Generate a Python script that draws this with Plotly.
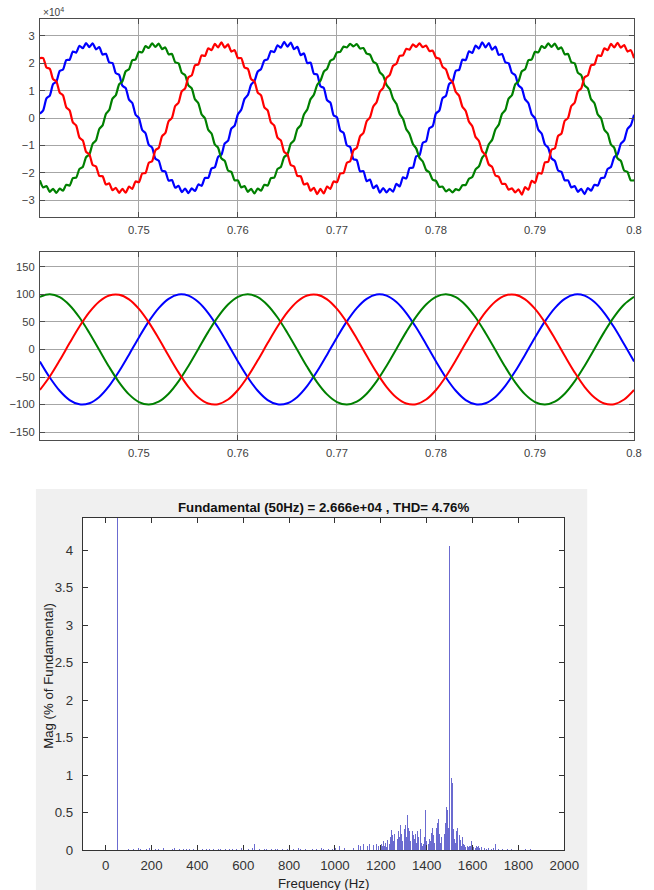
import numpy as np
import plotly.graph_objects as go

# The photographed area is about 667x898 CSS px and is then scaled to 654x890,
# so the figure is drawn at that size and every position is a fraction of the
# 654x890 reference frame.
W, H = 654, 890
FIG_W, FIG_H = 667, 898
FS = FIG_W / W  # font compensation for the downscale

# ---------------- Panel 1: output voltages (x 10^4), sampled every 1/3000 s ----------------
phase_a_top = [
    0.16, 0.28, 0.72, 0.82, 1.24, 1.33, 1.72, 1.77, 2.12, 2.13,
    2.43, 2.39, 2.64, 2.55, 2.74, 2.59, 2.73, 2.51, 2.59, 2.32,
    2.35, 2.03, 2.01, 1.64, 1.58, 1.18, 1.09, 0.67, 0.55, 0.12,
    0.00, -0.44, -0.56, -0.98, -1.08, -1.49, -1.56, -1.93, -1.96, -2.29,
    -2.27, -2.55, -2.48, -2.71, -2.58, -2.75, -2.57, -2.67, -2.43, -2.48,
    -2.19, -2.19, -1.85, -1.80, -1.42, -1.34, -0.93, -0.83, -0.39, -0.28,
    0.14, 0.30, 0.70, 0.84, 1.22, 1.35, 1.70, 1.79, 2.10, 2.15,
    2.45, 2.41, 2.66, 2.57, 2.78, 2.61, 2.76, 2.52, 2.60, 2.30,
    2.36, 2.01, 2.02, 1.62, 1.59, 1.16, 1.10, 0.65, 0.56, 0.10,
    0.02, -0.46, -0.54, -1.00, -1.06, -1.51, -1.54, -1.95, -1.94, -2.31,
    -2.25, -2.57, -2.46, -2.73, -2.56, -2.72, -2.59, -2.69, -2.41, -2.50,
    -2.17, -2.21, -1.83, -1.82, -1.40, -1.36, -0.91, -0.85, -0.37, -0.30,
    0.17, 0.27, 0.73, 0.81, 1.25, 1.32, 1.73, 1.76, 2.13, 2.12,
    2.44, 2.38, 2.65, 2.54, 2.77, 2.58, 2.74, 2.50, 2.61, 2.31,
    2.34, 2.04, 2.00, 1.65, 1.57, 1.19, 1.08, 0.68, 0.54, 0.13,
    -0.01, -0.43, -0.57, -0.97, -1.09, -1.48, -1.57, -1.92, -1.97, -2.28,
    -2.28, -2.54, -2.49, -2.70, -2.59, -2.78, -2.56, -2.66, -2.44, -2.47,
    -2.20, -2.18, -1.86, -1.79, -1.43, -1.33, -0.94, -0.82, -0.40, -0.27,
    0.12,
]
phase_b_top = [
    2.19, 2.19, 1.85, 1.80, 1.42, 1.34, 0.93, 0.83, 0.39, 0.28,
    -0.16, -0.28, -0.72, -0.82, -1.24, -1.33, -1.72, -1.77, -2.12, -2.13,
    -2.43, -2.39, -2.64, -2.55, -2.74, -2.59, -2.73, -2.51, -2.59, -2.32,
    -2.35, -2.03, -2.01, -1.64, -1.58, -1.18, -1.09, -0.67, -0.55, -0.12,
    0.00, 0.44, 0.56, 0.98, 1.08, 1.49, 1.56, 1.93, 1.96, 2.29,
    2.27, 2.55, 2.48, 2.71, 2.58, 2.77, 2.57, 2.69, 2.43, 2.48,
    2.19, 2.19, 1.85, 1.80, 1.42, 1.34, 0.93, 0.83, 0.39, 0.28,
    -0.16, -0.28, -0.72, -0.82, -1.24, -1.33, -1.72, -1.77, -2.12, -2.13,
    -2.43, -2.39, -2.66, -2.55, -2.78, -2.59, -2.76, -2.51, -2.59, -2.32,
    -2.35, -2.03, -2.01, -1.64, -1.58, -1.18, -1.09, -0.67, -0.55, -0.12,
    0.02, 0.42, 0.58, 0.96, 1.10, 1.47, 1.58, 1.91, 1.98, 2.27,
    2.29, 2.53, 2.50, 2.69, 2.60, 2.73, 2.59, 2.65, 2.45, 2.46,
    2.21, 2.17, 1.87, 1.78, 1.44, 1.32, 0.95, 0.81, 0.41, 0.26,
    -0.14, -0.30, -0.70, -0.84, -1.22, -1.35, -1.70, -1.79, -2.10, -2.15,
    -2.41, -2.41, -2.62, -2.57, -2.72, -2.61, -2.80, -2.53, -2.62, -2.30,
    -2.37, -2.01, -2.03, -1.62, -1.60, -1.16, -1.11, -0.65, -0.57, -0.10,
    0.00, 0.44, 0.56, 0.98, 1.08, 1.49, 1.56, 1.93, 1.96, 2.29,
    2.27, 2.55, 2.48, 2.71, 2.58, 2.75, 2.57, 2.67, 2.43, 2.48,
    2.19,
]
phase_c_top = [
    -2.28, -2.54, -2.49, -2.70, -2.59, -2.74, -2.58, -2.66, -2.44, -2.47,
    -2.20, -2.18, -1.86, -1.79, -1.43, -1.33, -0.94, -0.82, -0.40, -0.27,
    0.15, 0.29, 0.71, 0.83, 1.23, 1.34, 1.71, 1.78, 2.11, 2.14,
    2.42, 2.40, 2.63, 2.56, 2.73, 2.60, 2.72, 2.52, 2.58, 2.33,
    2.34, 2.04, 2.00, 1.65, 1.57, 1.19, 1.08, 0.68, 0.54, 0.13,
    -0.01, -0.43, -0.57, -0.97, -1.09, -1.48, -1.57, -1.92, -1.97, -2.28,
    -2.28, -2.54, -2.49, -2.70, -2.59, -2.76, -2.58, -2.66, -2.44, -2.47,
    -2.20, -2.18, -1.86, -1.79, -1.43, -1.33, -0.94, -0.82, -0.40, -0.27,
    0.13, 0.31, 0.69, 0.85, 1.21, 1.36, 1.69, 1.80, 2.09, 2.16,
    2.40, 2.42, 2.61, 2.58, 2.71, 2.62, 2.70, 2.54, 2.56, 2.35,
    2.32, 2.06, 1.98, 1.67, 1.55, 1.21, 1.06, 0.70, 0.52, 0.15,
    -0.03, -0.41, -0.59, -0.95, -1.11, -1.46, -1.59, -1.90, -1.99, -2.26,
    -2.30, -2.52, -2.51, -2.68, -2.61, -2.72, -2.60, -2.64, -2.46, -2.45,
    -2.22, -2.16, -1.88, -1.77, -1.45, -1.31, -0.96, -0.80, -0.42, -0.25,
    0.15, 0.29, 0.71, 0.83, 1.23, 1.34, 1.71, 1.78, 2.11, 2.14,
    2.42, 2.40, 2.63, 2.56, 2.73, 2.60, 2.72, 2.52, 2.58, 2.33,
    2.34, 2.04, 2.00, 1.65, 1.57, 1.19, 1.08, 0.68, 0.54, 0.13,
    -0.01, -0.43, -0.57, -0.97, -1.09, -1.48, -1.57, -1.92, -1.97, -2.28,
    -2.28,
]

# ---------------- Panel 2: reference signals, sampled every 1 ms ----------------
phase_a_ref = [
    -21.8, -50.9, -75.0, -91.8, -99.6, -97.6, -86.1, -66.1, -39.7, -9.4,
    21.8, 50.9, 75.0, 91.8, 99.6, 97.6, 86.1, 66.1, 39.7, 9.4,
    -21.8, -50.9, -75.0, -91.8, -99.6, -97.6, -86.1, -66.1, -39.7, -9.4,
    21.8, 50.9, 75.0, 91.8, 99.6, 97.6, 86.1, 66.1, 39.7, 9.4,
    -21.8, -50.9, -75.0, -91.8, -99.6, -97.6, -86.1, -66.1, -39.7, -9.4,
    21.8, 50.9, 75.0, 91.8, 99.6, 97.6, 86.1, 66.1, 39.7, 9.4,
    -21.8,
]
phase_b_ref = [
    -73.6, -49.1, -19.8, 11.5, 41.6, 67.7, 87.1, 98.0, 99.3, 90.9,
    73.6, 49.1, 19.8, -11.5, -41.6, -67.7, -87.1, -98.0, -99.3, -90.9,
    -73.6, -49.1, -19.8, 11.5, 41.6, 67.7, 87.1, 98.0, 99.3, 90.9,
    73.6, 49.1, 19.8, -11.5, -41.6, -67.7, -87.1, -98.0, -99.3, -90.9,
    -73.6, -49.1, -19.8, 11.5, 41.6, 67.7, 87.1, 98.0, 99.3, 90.9,
    73.6, 49.1, 19.8, -11.5, -41.6, -67.7, -87.1, -98.0, -99.3, -90.9,
    -73.6,
]
phase_c_ref = [
    95.4, 100.0, 94.8, 80.3, 57.9, 29.9, -1.0, -31.9, -59.6, -81.5,
    -95.4, -100.0, -94.8, -80.3, -57.9, -29.9, 1.0, 31.9, 59.6, 81.5,
    95.4, 100.0, 94.8, 80.3, 57.9, 29.9, -1.0, -31.9, -59.6, -81.5,
    -95.4, -100.0, -94.8, -80.3, -57.9, -29.9, 1.0, 31.9, 59.6, 81.5,
    95.4, 100.0, 94.8, 80.3, 57.9, 29.9, -1.0, -31.9, -59.6, -81.5,
    -95.4, -100.0, -94.8, -80.3, -57.9, -29.9, 1.0, 31.9, 59.6, 81.5,
    95.4,
]
time_ticks = [0.75, 0.76, 0.77, 0.78, 0.79, 0.80]
time_tick_labels = ["0.75", "0.76", "0.77", "0.78", "0.79", "0.8"]

# ---------------- Panel 3: FFT spectrum ----------------
freq_hz = [
    50,
    100, 120, 140, 150, 175, 190, 200, 215, 230, 250, 275, 290, 300, 320, 340, 350,
    365, 380, 400, 420, 440, 450, 470, 490, 500, 520, 540, 550, 570, 590, 600, 620,
    640, 650, 670, 690, 700, 720, 740, 750, 770, 790, 800, 820, 840, 850, 870, 890,
    900, 920, 940, 950, 970, 990, 1000,
    1020, 1040, 1060, 1080, 1100, 1110, 1125, 1140, 1150, 1165, 1180, 1190,
    1200, 1205, 1210, 1215, 1220, 1225, 1230, 1235, 1240, 1245, 1250, 1255, 1260, 1265,
    1270, 1275, 1280, 1285, 1290, 1295, 1300, 1305, 1310, 1315, 1320, 1325, 1330, 1335,
    1340, 1345, 1350, 1355, 1360, 1365, 1370, 1375, 1380, 1385, 1390, 1395, 1400, 1405,
    1410, 1415, 1420, 1425, 1430, 1435, 1440, 1445, 1450, 1455, 1460, 1465, 1470, 1475,
    1480, 1485, 1490, 1495, 1500, 1505, 1510, 1515, 1520, 1525, 1530, 1535, 1540, 1545,
    1550, 1555, 1560, 1565, 1570, 1575, 1580, 1585, 1590, 1595, 1600, 1605, 1610, 1615,
    1620, 1625, 1630, 1640, 1650, 1660, 1670, 1680, 1690, 1700, 1710, 1730, 1750, 1770,
    1800, 1830, 1850, 1880,
]
mag_pct = [
    100.0,
    0.02, 0.01, 0.03, 0.02, 0.02, 0.03, 0.04, 0.02, 0.02, 0.03, 0.01, 0.02, 0.03, 0.02, 0.01, 0.02,
    0.02, 0.01, 0.04, 0.02, 0.01, 0.02, 0.01, 0.02, 0.02, 0.01, 0.02, 0.02, 0.01, 0.03, 0.04, 0.02,
    0.03, 0.08, 0.02, 0.01, 0.02, 0.01, 0.02, 0.02, 0.01, 0.02, 0.04, 0.02, 0.03, 0.02, 0.01, 0.02,
    0.02, 0.01, 0.03, 0.02, 0.02, 0.01, 0.03,
    0.05, 0.03, 0.06, 0.03, 0.07, 0.05, 0.08, 0.06, 0.08, 0.07, 0.08, 0.05,
    0.08, 0.05, 0.12, 0.06, 0.10, 0.04, 0.14, 0.08, 0.18, 0.27, 0.20, 0.12, 0.22, 0.36,
    0.15, 0.25, 0.18, 0.34, 0.22, 0.12, 0.28, 0.34, 0.18, 0.47, 0.30, 0.25, 0.12, 0.25,
    0.20, 0.15, 0.22, 0.10, 0.25, 0.18, 0.28, 0.10, 0.05, 0.08, 0.17, 0.53, 0.12, 0.08,
    0.15, 0.12, 0.23, 0.30, 0.20, 0.10, 0.29, 0.36, 0.41, 0.22, 0.10, 0.18, 0.25, 0.22,
    0.36, 0.58, 0.53, 0.30, 4.05, 0.96, 0.90, 0.28, 0.15, 0.10, 0.26, 0.29, 0.20, 0.13,
    0.06, 0.17, 0.08, 0.07, 0.04, 0.05, 0.04, 0.06, 0.05, 0.12, 0.06, 0.04, 0.03, 0.05,
    0.04, 0.05, 0.03, 0.04, 0.03, 0.02, 0.03, 0.02, 0.03, 0.08, 0.02, 0.02, 0.02, 0.01,
    0.05, 0.01, 0.01, 0.01,
]
freq_ticks = [0, 200, 400, 600, 800, 1000, 1200, 1400, 1600, 1800, 2000]
mag_ticks = [0, 0.5, 1, 1.5, 2, 2.5, 3, 3.5, 4]
mag_tick_labels = ["0", "0.5", "1", "1.5", "2", "2.5", "3", "3.5", "4"]

FFT_TITLE = "Fundamental (50Hz) = 2.666e+04 , THD= 4.76%"

# ---------------- helpers: reference pixels -> paper fractions ----------------
def px_x(p):
    return p / W

def px_y(p):
    return 1 - p / H

FONT = "Liberation Sans, Arial, sans-serif"
BLUE, RED, GREEN = "#0000ff", "#ff0000", "#008000"

fig = go.Figure()

for vals, col in [(phase_a_top, BLUE), (phase_c_top, GREEN), (phase_b_top, RED)]:
    t = np.linspace(0.74, 0.80, len(vals))
    fig.add_trace(go.Scatter(x=t, y=vals, mode="lines", xaxis="x", yaxis="y",
                             line=dict(color=col, width=2.2, shape="spline", smoothing=0.6),
                             showlegend=False, hoverinfo="skip"))

for vals, col in [(phase_a_ref, BLUE), (phase_c_ref, GREEN), (phase_b_ref, RED)]:
    t = np.linspace(0.74, 0.80, len(vals))
    fig.add_trace(go.Scatter(x=t, y=vals, mode="lines", xaxis="x2", yaxis="y2",
                             line=dict(color=col, width=2, shape="spline", smoothing=1.0),
                             showlegend=False, hoverinfo="skip"))

fig.add_trace(go.Bar(x=freq_hz, y=mag_pct, xaxis="x3", yaxis="y3", width=4.2,
                     marker=dict(color="rgba(50,50,190,0.72)", line=dict(width=0)),
                     showlegend=False, hoverinfo="skip"))

AX_LINE = "#4d4d4d"
GRID = "#a6a6a6"
TICK_FONT_SMALL = dict(family=FONT, size=11 * FS, color="#404040")
TICK_FONT_BIG = dict(family=FONT, size=13 * FS, color="#333333")

def wave_axis(**kw):
    d = dict(showline=True, linecolor=AX_LINE, linewidth=1, mirror="allticks",
             ticks="inside", ticklen=5, tickcolor=AX_LINE, showgrid=True,
             gridcolor=GRID, gridwidth=1, zeroline=False, tickfont=TICK_FONT_SMALL)
    d.update(kw)
    return d

top_dom = [px_y(217), px_y(19)]
mid_dom = [px_y(440), px_y(252)]
wave_xdom = [px_x(40), px_x(636)]

fig.update_layout(
    width=FIG_W, height=FIG_H,
    margin=dict(l=0, r=0, t=0, b=0),
    paper_bgcolor="white", plot_bgcolor="white",
    font=dict(family=FONT),
    bargap=0,
    xaxis=wave_axis(domain=wave_xdom, range=[0.74, 0.80], anchor="y",
                    tickvals=time_ticks, ticktext=time_tick_labels, ticklabelstandoff=3),
    yaxis=wave_axis(domain=top_dom, range=[-3.62, 3.62], anchor="x",
                    tickvals=[-3, -2, -1, 0, 1, 2, 3], ticklabelstandoff=2),
    xaxis2=wave_axis(domain=wave_xdom, range=[0.74, 0.80], anchor="y2",
                     tickvals=time_ticks, ticktext=time_tick_labels, ticklabelstandoff=3),
    yaxis2=wave_axis(domain=mid_dom, range=[-164.3, 176.8], anchor="x2",
                     tickvals=[-150, -100, -50, 0, 50, 100, 150], ticklabelstandoff=2),
    xaxis3=dict(domain=[px_x(83), px_x(566)], range=[-100, 2000], anchor="y3",
                showline=True, linecolor="#333333", mirror="allticks", ticks="inside",
                ticklen=5, tickcolor="#333333", showgrid=False, zeroline=False,
                tickvals=freq_ticks, tickfont=TICK_FONT_BIG, ticklabelstandoff=3),
    yaxis3=dict(domain=[px_y(850), px_y(518)], range=[0, 4.43], anchor="x3",
                showline=True, linecolor="#333333", mirror="allticks", ticks="inside",
                ticklen=5, tickcolor="#333333", showgrid=False, zeroline=False,
                tickvals=mag_ticks, ticktext=mag_tick_labels, tickfont=TICK_FONT_BIG,
                ticklabelstandoff=6),
)

# grey figure background around the FFT axes (drawn as a frame of four strips)
GREY = "#f0f0f0"
frame = [
    (36, 489, 589, 518),
    (36, 850, 589, 890),
    (36, 518, 83, 850),
    (566, 518, 589, 850),
]
shapes = []
for x0, y0, x1, y1 in frame:
    shapes.append(dict(type="rect", xref="paper", yref="paper", layer="below",
                       x0=px_x(x0), x1=px_x(x1), y0=px_y(y1), y1=px_y(y0),
                       fillcolor=GREY, line=dict(width=0)))
fig.update_layout(shapes=shapes)

fig.add_annotation(x=px_x(41), y=px_y(12), xref="paper", yref="paper",
                   text="×10<sup>4</sup>", showarrow=False, xanchor="left", yanchor="middle",
                   font=dict(family=FONT, size=10 * FS, color="#404040"))
fig.add_annotation(x=px_x(324.5), y=px_y(507), xref="paper", yref="paper",
                   text="<b>" + FFT_TITLE + "</b>", showarrow=False,
                   xanchor="center", yanchor="middle",
                   font=dict(family=FONT, size=13 * FS, color="#111111"))
fig.add_annotation(x=px_x(324.5), y=px_y(883), xref="paper", yref="paper",
                   text="Frequency (Hz)", showarrow=False, xanchor="center", yanchor="middle",
                   font=dict(family=FONT, size=13 * FS, color="#222222"))
fig.add_annotation(x=px_x(48), y=px_y(676), xref="paper", yref="paper",
                   text="Mag (% of Fundamental)", showarrow=False, textangle=-90,
                   xanchor="center", yanchor="middle",
                   font=dict(family=FONT, size=13 * FS, color="#222222"))

fig.write_html(
    "out.html",
    config={"displayModeBar": False},
    post_script=("document.body.style.margin='0px';"
                 "document.body.style.overflow='hidden';"
                 "document.documentElement.style.overflow='hidden';"),
)
